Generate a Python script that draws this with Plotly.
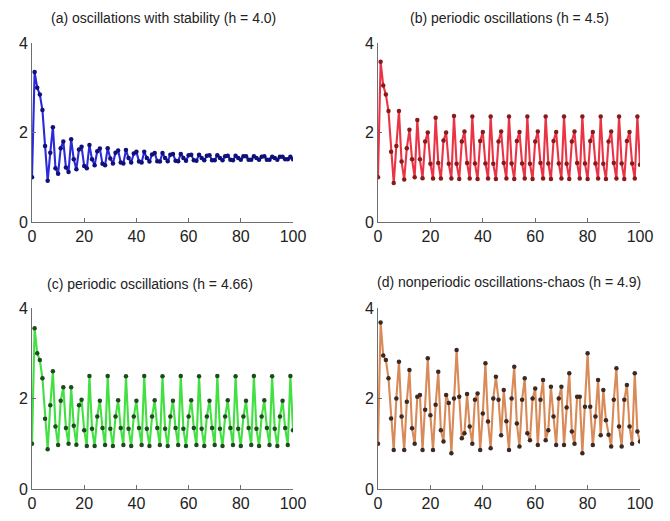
import plotly.graph_objects as go

steps = list(range(101))

titles = [
    "(a) oscillations with stability (h = 4.0)",
    "(b) periodic oscillations (h = 4.5)",
    "(c) periodic oscillations (h = 4.66)",
    "(d) nonperiodic oscillations-chaos (h = 4.9)",
]

series_a = [
    1.00, 3.35, 3.00, 2.85, 2.50, 1.70, 0.92, 1.55, 2.12, 1.20,
    1.08, 1.65, 1.80, 1.22, 1.12, 1.85, 1.40, 1.18, 1.62, 1.68,
    1.25, 1.20, 1.72, 1.40, 1.27, 1.58, 1.64, 1.30, 1.27, 1.65,
    1.42, 1.31, 1.55, 1.60, 1.33, 1.31, 1.61, 1.43, 1.33, 1.53,
    1.57, 1.35, 1.33, 1.57, 1.43, 1.35, 1.51, 1.54, 1.36, 1.35,
    1.54, 1.43, 1.36, 1.50, 1.52, 1.37, 1.36, 1.52, 1.43, 1.37,
    1.49, 1.50, 1.38, 1.37, 1.50, 1.43, 1.38, 1.48, 1.49, 1.38,
    1.38, 1.49, 1.43, 1.38, 1.47, 1.48, 1.39, 1.38, 1.48, 1.43,
    1.39, 1.47, 1.47, 1.39, 1.39, 1.47, 1.43, 1.39, 1.46, 1.47,
    1.39, 1.39, 1.46, 1.43, 1.39, 1.46, 1.46, 1.40, 1.40, 1.46,
    1.40,
]

series_b = [
    1.00, 3.58, 3.05, 2.85, 2.48, 1.57, 0.87, 1.70, 2.48, 1.35,
    0.95, 1.65, 2.06, 1.40, 1.00, 2.28, 1.40, 0.98, 1.80, 2.00,
    1.30, 0.97, 2.33, 1.32, 0.97, 1.82, 2.00, 1.30, 0.97, 2.37,
    1.30, 0.96, 1.80, 2.02, 1.32, 0.97, 2.36, 1.31, 0.96, 1.81,
    2.01, 1.31, 0.97, 2.36, 1.30, 0.96, 1.80, 2.02, 1.32, 0.97,
    2.36, 1.31, 0.96, 1.81, 2.01, 1.31, 0.97, 2.36, 1.30, 0.96,
    1.80, 2.02, 1.32, 0.97, 2.36, 1.31, 0.96, 1.81, 2.01, 1.31,
    0.97, 2.36, 1.30, 0.96, 1.80, 2.02, 1.32, 0.97, 2.36, 1.31,
    0.96, 1.81, 2.01, 1.31, 0.97, 2.36, 1.30, 0.96, 1.80, 2.02,
    1.32, 0.97, 2.36, 1.31, 0.96, 1.81, 2.01, 1.31, 0.97, 2.36,
    1.28,
]

series_c = [
    1.00, 3.55, 3.00, 2.85, 2.45, 1.55, 0.88, 1.85, 2.60, 1.38,
    0.97, 1.95, 2.25, 1.35, 1.00, 2.25, 1.40, 0.98, 1.85, 1.97,
    1.30, 0.95, 2.50, 1.33, 0.95, 1.60, 1.95, 1.35, 0.97, 2.50,
    1.33, 0.95, 1.60, 1.96, 1.35, 0.97, 2.49, 1.33, 0.95, 1.60,
    1.95, 1.35, 0.97, 2.50, 1.33, 0.95, 1.60, 1.96, 1.35, 0.97,
    2.49, 1.33, 0.95, 1.60, 1.95, 1.35, 0.97, 2.50, 1.33, 0.95,
    1.60, 1.96, 1.35, 0.97, 2.49, 1.33, 0.95, 1.60, 1.95, 1.35,
    0.97, 2.50, 1.33, 0.95, 1.60, 1.96, 1.35, 0.97, 2.49, 1.33,
    0.95, 1.60, 1.95, 1.35, 0.97, 2.50, 1.33, 0.95, 1.60, 1.96,
    1.35, 0.97, 2.49, 1.33, 0.95, 1.60, 1.95, 1.35, 0.97, 2.50,
    1.30,
]

series_d = [
    1.00, 3.68, 2.95, 2.85, 2.45, 1.56, 0.86, 2.00, 2.81, 1.60,
    0.86, 1.93, 2.63, 1.34, 1.00, 2.04, 2.08, 0.86, 1.75, 2.89,
    1.63, 0.86, 1.86, 2.59, 1.30, 1.05, 2.08, 1.90, 0.79, 2.00,
    3.07, 2.04, 1.12, 1.23, 2.10, 1.38, 1.00, 1.97, 2.11, 0.86,
    1.67, 2.78, 1.49, 0.90, 2.00, 2.48, 1.97, 1.19, 2.19, 1.50,
    0.86, 2.00, 2.70, 1.45, 0.94, 1.97, 2.45, 1.23, 1.08, 2.00,
    2.22, 0.97, 1.97, 2.41, 1.08, 1.30, 2.26, 1.60, 0.97, 2.00,
    2.26, 0.97, 1.80, 2.56, 1.27, 1.00, 2.04, 2.04, 0.79, 1.82,
    3.00, 1.82, 0.97, 1.60, 2.41, 1.19, 2.19, 1.52, 1.20, 0.94,
    1.97, 2.67, 1.38, 0.94, 1.97, 2.30, 1.38, 1.00, 2.56, 1.27,
    1.05,
]

x_ticks = [0, 20, 40, 60, 80, 100]
y_ticks = [0, 2, 4]

all_series = [series_a, series_b, series_c, series_d]
line_colors = ["#2a2ad8", "#ea3446", "#42e042", "#d88a58"]
marker_colors = ["#10107a", "#8a1a1a", "#1e4a1e", "#3a2a26"]

# The page body has an 8 px margin, so the figure is offset by 8 px.
OFF = 8
W, H = 670 - 2 * OFF, 521 - 2 * OFF
# pixel boxes in window coordinates (left, right, top, bottom)
boxes = [
    (32, 293, 43, 222),
    (378, 640, 43, 222),
    (32, 293, 308, 489),
    (378, 640, 308, 489),
]
title_pos = [(163, 18), (509, 18), (150, 284), (509, 282)]

FONT = "Liberation Sans Narrow, Arial Narrow, Liberation Sans, Arial, sans-serif"


def fx(px):
    return (px - OFF) / W


def fy(py):
    return 1 - (py - OFF) / H


fig = go.Figure()
layout = dict(
    template="none",
    width=W, height=H,
    margin=dict(l=0, r=0, t=0, b=0, pad=0),
    paper_bgcolor="white", plot_bgcolor="white",
    showlegend=False,
    font=dict(family=FONT, size=14, color="#222222"),
    annotations=[],
)

for i, ys in enumerate(all_series):
    n = i + 1
    xa = "x" if n == 1 else f"x{n}"
    ya = "y" if n == 1 else f"y{n}"
    fig.add_trace(go.Scatter(
        x=steps, y=ys, xaxis=xa, yaxis=ya, mode="lines+markers",
        line=dict(color=line_colors[i], width=2.1),
        marker=dict(color=marker_colors[i], size=4.5),
        hoverinfo="skip",
    ))
    l, r, t, b = boxes[i]
    xkey = "xaxis" if n == 1 else f"xaxis{n}"
    ykey = "yaxis" if n == 1 else f"yaxis{n}"
    layout[xkey] = dict(
        domain=[fx(l), fx(r)], anchor=ya, range=[0, 100], automargin=False,
        tickvals=x_ticks, ticktext=[str(v) for v in x_ticks],
        showline=True, linecolor="#6e6e6e", linewidth=1,
        ticks="inside", ticklen=4, tickcolor="#6e6e6e",
        showgrid=False, zeroline=False,
        tickfont=dict(family=FONT, size=16, color="#222222"),
    )
    layout[ykey] = dict(
        domain=[fy(b), fy(t)], anchor=xa, range=[0, 4], automargin=False,
        tickvals=y_ticks, ticktext=[str(v) for v in y_ticks],
        showline=True, linecolor="#6e6e6e", linewidth=1,
        ticks="inside", ticklen=4, tickcolor="#6e6e6e",
        showgrid=False, zeroline=False,
        tickfont=dict(family=FONT, size=16, color="#222222"),
    )
    tx, ty = title_pos[i]
    layout["annotations"].append(dict(
        text=titles[i], x=fx(tx), y=fy(ty), xref="paper", yref="paper",
        xanchor="center", yanchor="middle", showarrow=False,
        font=dict(family=FONT, size=14, color="#222222"),
    ))

fig.update_layout(**layout)
fig.write_html("out.html")
